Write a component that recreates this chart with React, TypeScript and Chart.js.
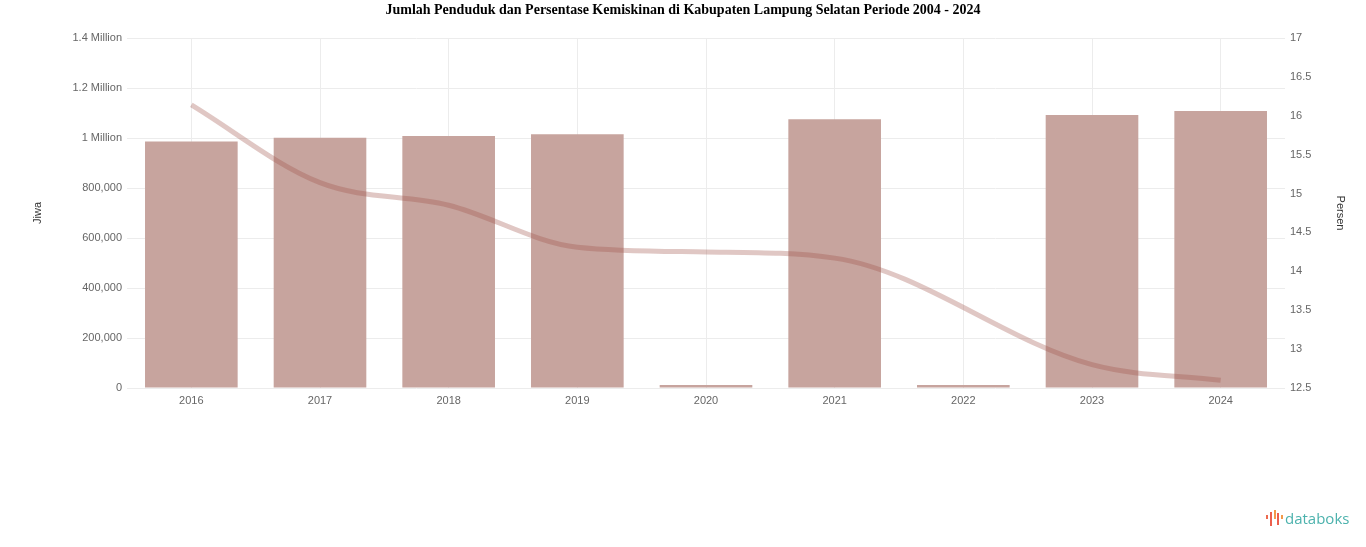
import React, { useEffect, useRef } from "react";
import { Chart, registerables } from "chart.js";

Chart.register(...registerables);

const chartTitle =
  "Jumlah Penduduk dan Persentase Kemiskinan di Kabupaten Lampung Selatan Periode 2004 - 2024";

const years = ["2016", "2017", "2018", "2019", "2020", "2021", "2022", "2023", "2024"];

// Jumlah penduduk (jiwa)
const population = [986000, 1001000, 1008000, 1015000, 0, 1075000, 0, 1092000, 1108000];

// Persentase kemiskinan (%)
const povertyRate: (number | null)[] = [16.14, 15.14, 14.85, 14.31, 14.25, 14.17, null, 12.8, 12.6];

const leftAxisTitle = "Jiwa";
const rightAxisTitle = "Persen";

function formatPopulation(v: number): string {
  if (v >= 1000000) {
    const m = v / 1000000;
    return `${Number.isInteger(m) ? m : m.toFixed(1)} Million`;
  }
  return v.toLocaleString("en-US");
}

function formatPercent(v: number): string {
  return String(Math.round(v * 10) / 10);
}

export default function App() {
  const ref = useRef<HTMLCanvasElement | null>(null);

  useEffect(() => {
    if (!ref.current) return;
    const chart = new Chart(ref.current, {
      type: "bar",
      data: {
        labels: years,
        datasets: [
          {
            type: "line",
            label: rightAxisTitle,
            data: povertyRate,
            yAxisID: "y1",
            borderColor: "rgba(160,80,72,0.32)",
            borderWidth: 5,
            cubicInterpolationMode: "monotone",
            pointRadius: 0,
            pointHoverRadius: 0,
            spanGaps: true,
            fill: false,
            order: 0,
          } as any,
          {
            type: "bar",
            label: leftAxisTitle,
            data: population,
            yAxisID: "y",
            backgroundColor: "rgb(199,164,158)",
            minBarLength: 3,
            order: 1,
          } as any,
        ],
      },
      options: {
        responsive: false,
        animation: false,
        layout: { padding: { left: 27, right: 15, top: 38, bottom: 129 } },
        plugins: {
          legend: { display: false },
          tooltip: { enabled: false },
          title: { display: false },
        },
        scales: {
          x: {
            grid: { color: "#ececec", offset: false, drawTicks: false },
            border: { display: false },
            ticks: { padding: 6, color: "#666", font: { size: 11, family: "Arial" } },
            afterFit: (s: any) => {
              s.height = 30;
            },
          },
          y: {
            position: "left",
            min: 0,
            max: 1400000,
            ticks: {
              stepSize: 200000,
              padding: 5,
              color: "#666",
              font: { size: 11, family: "Arial" },
              callback: (v: any) => formatPopulation(Number(v)),
            },
            grid: { color: "#ececec", drawTicks: false },
            border: { display: false },
            title: {
              display: true,
              text: leftAxisTitle,
              color: "#333",
              font: { size: 11, family: "Arial" },
              padding: { top: 4, bottom: 4 },
            },
            afterFit: (s: any) => {
              s.width = 100;
            },
          },
          y1: {
            position: "right",
            min: 12.5,
            max: 17,
            ticks: {
              stepSize: 0.5,
              padding: 5,
              color: "#666",
              font: { size: 11, family: "Arial" },
              callback: (v: any) => formatPercent(Number(v)),
            },
            grid: { display: false, drawTicks: false },
            border: { display: false },
            title: {
              display: true,
              text: rightAxisTitle,
              color: "#333",
              font: { size: 11, family: "Arial" },
              padding: { top: 4, bottom: 4 },
            },
            afterFit: (s: any) => {
              s.width = 66;
            },
          },
        },
      } as any,
    });
    return () => chart.destroy();
  }, []);

  return (
    <div style={{ position: "fixed", left: 0, top: 0, width: 1366, height: 547, background: "#fff" }}>
      <canvas ref={ref} width={1366} height={547} style={{ position: "absolute", left: 0, top: 0, display: "block" }} />
      <div
        style={{
          position: "absolute",
          left: 0,
          top: 0,
          width: 1366,
          textAlign: "center",
          font: "bold 14px 'Liberation Serif', 'Times New Roman', serif",
          lineHeight: "20px",
          color: "#000",
        }}
      >
        {chartTitle}
      </div>
      <div style={{ position: "absolute", left: 1266, top: 508, height: 20, display: "flex", alignItems: "center" }}>
        <div style={{ position: "relative", width: 17, height: 17, marginRight: 2 }}>
          <span style={{ position: "absolute", left: 0, top: 5, width: 2, height: 4, background: "#ec6a4f" }} />
          <span style={{ position: "absolute", left: 4, top: 2, width: 2, height: 14, background: "#ec5f4d" }} />
          <span style={{ position: "absolute", left: 8, top: 0, width: 2, height: 9, background: "#f39a4a" }} />
          <span style={{ position: "absolute", left: 11, top: 3, width: 2, height: 12, background: "#ec5f4d" }} />
          <span style={{ position: "absolute", left: 15, top: 5, width: 2, height: 4, background: "#f39a4a" }} />
        </div>
        <span style={{ font: "500 15px 'Open Sans', Roboto, sans-serif", color: "#4cb2ad" }}>databoks</span>
      </div>
    </div>
  );
}
